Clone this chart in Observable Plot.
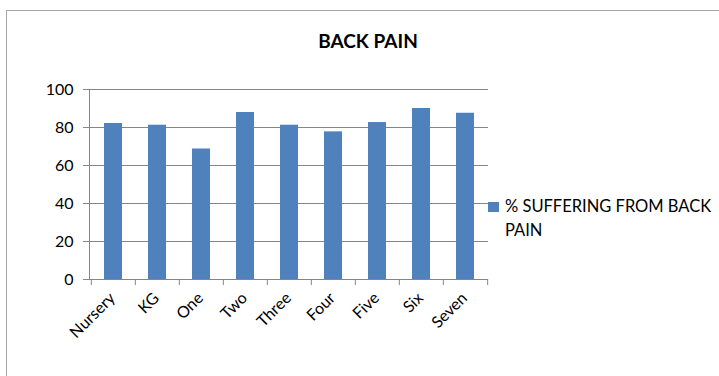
<!DOCTYPE html>
<html><head><meta charset="utf-8">
<script src="https://cdn.jsdelivr.net/npm/d3@7"></script>
<script src="https://cdn.jsdelivr.net/npm/@observablehq/plot@0.6"></script>
<style>
body{margin:0;background:#fff;}
#wrap{position:relative;width:719px;height:376px;overflow:hidden;font-family:Lato,"Liberation Sans",sans-serif;color:#000;}
#border{position:absolute;left:6px;top:10px;width:720px;height:380px;border-top:1.5px solid #a6a6a6;border-left:1.5px solid #a6a6a6;}
#title{position:absolute;left:218px;top:31px;width:300px;text-align:center;font-weight:bold;font-size:19px;line-height:19px;}
#chart{position:absolute;left:0;top:0;}
#legend{position:absolute;left:488px;top:194px;width:230px;font-size:16.5px;line-height:24px;}
#legend .sw{position:absolute;left:0;top:8px;width:11px;height:10px;background:#4F81BD;}
#legend .lt{position:absolute;left:17px;top:0;width:214px;}
</style></head><body>
<div id="wrap">
  <div id="border"></div>
  <div id="chart"></div>
  <div id="title"></div>
  <div id="legend"><span class="sw"></span><span class="lt"></span></div>
</div>
<script>
const chartTitle = "BACK PAIN";
const seriesName = "% SUFFERING FROM BACK PAIN";
const grades = ["Nursery", "KG", "One", "Two", "Three", "Four", "Five", "Six", "Seven"];
const painPct = [82.1, 81.2, 68.7, 87.9, 81.2, 77.7, 82.6, 90.0, 87.5];
const yTicks = [0, 20, 40, 60, 80, 100];

const barColor = "#4F81BD";
const gridColor = "#868686";

document.getElementById("title").textContent = chartTitle;
document.querySelector("#legend .lt").textContent = seriesName;

const W = 719, H = 376, mL = 89, mR = 231, mT = 89, mB = 97;
const step = (W - mL - mR) / grades.length;
const data = grades.map((g, i) => ({grade: g, pct: painPct[i]}));

const chart = Plot.plot({
  width: W, height: H,
  marginLeft: mL, marginRight: mR, marginTop: mT, marginBottom: mB,
  style: {fontFamily: "Lato, 'Liberation Sans', sans-serif", fontSize: "16px", color: "#000", background: "transparent"},
  x: {domain: grades, paddingInner: 0.6, paddingOuter: 0.3, label: null},
  y: {domain: [0, 100], label: null},
  marks: [
    Plot.gridY(yTicks, {stroke: gridColor, strokeOpacity: 1}),
    Plot.axisY(yTicks, {tickSize: 6, tickPadding: 10, stroke: gridColor, label: null, tickFormat: d => String(d)}),
    Plot.ruleY([0], {stroke: gridColor}),
    Plot.frame({anchor: "left", stroke: gridColor}),
    Plot.barY(data, {x: "grade", y: "pct", fill: barColor}),
    Plot.axisX({tickSize: 6, text: null, dx: -step / 2, stroke: gridColor, label: null}),
    Plot.axisX([grades[grades.length - 1]], {tickSize: 6, text: null, dx: step / 2, stroke: gridColor, label: null}),
    Plot.axisX({tickSize: 0, tickRotate: -45, tickPadding: 16, dx: -1, label: null})
  ]
});
document.getElementById("chart").appendChild(chart);
</script>
</body></html>
